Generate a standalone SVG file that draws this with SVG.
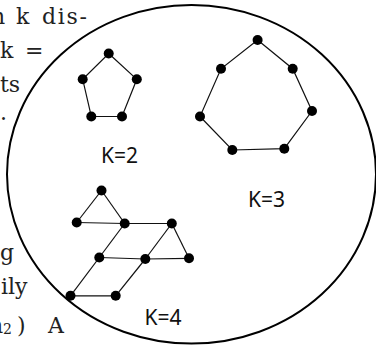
<svg xmlns="http://www.w3.org/2000/svg" width="376" height="345" viewBox="0 0 376 345">
<style>
.bg{fill:#fff}
.edge{stroke:#111;stroke-width:1.2;fill:none}
.dot{fill:#000}
.lbl{font-family:"Noto Sans","Open Sans","DejaVu Sans",sans-serif;font-size:21px;fill:#111}
.body{font-family:"DejaVu Serif","Liberation Serif",serif;font-size:22px;fill:#222}
.sub{font-family:"DejaVu Serif","Liberation Serif",serif;font-size:14px;fill:#222}
.outline{fill:none;stroke:#000;stroke-width:2}
</style>
<rect class="bg" x="0" y="0" width="376" height="345"/>
<g id="page-text">
<text class="body" x="-9" y="24">n</text>
<text class="body" x="16" y="24">k</text>
<text class="body" x="42" y="24" textLength="45">dis-</text>
<text class="body" x="0" y="58">k</text>
<text class="body" x="25" y="58">=</text>
<text class="body" x="0" y="92">ts</text>
<text class="body" x="0" y="120">.</text>
<text class="body" x="0" y="260">g</text>
<text class="body" x="1" y="294">ily</text>
<text class="body" x="-11" y="333">n</text>
<text class="sub" x="3" y="334">2</text>
<text class="body" x="17" y="333">)</text>
<text class="body" x="48" y="333">A</text>
</g>
<ellipse id="boundary" class="outline" cx="191.5" cy="174.3" rx="184.5" ry="169.3"/>
<g id="connectors">
<polygon class="edge" points="108.7,53.5 136.8,79.3 122,116.5 91.3,116.5 82.7,79.3"/>
<polygon class="edge" points="257.6,40 292.7,68.7 312,111 284.3,148.7 232.3,150 200,116.5 221,68.8"/>
<line class="edge" x1="101.5" y1="190.5" x2="76.7" y2="222.5"/>
<line class="edge" x1="101.5" y1="190.5" x2="124.7" y2="223.5"/>
<line class="edge" x1="76.7" y1="222.5" x2="124.7" y2="223.5"/>
<line class="edge" x1="124.7" y1="223.5" x2="171.8" y2="223.5"/>
<line class="edge" x1="124.7" y1="223.5" x2="99.3" y2="257.5"/>
<line class="edge" x1="171.8" y1="223.5" x2="145.3" y2="259"/>
<line class="edge" x1="171.8" y1="223.5" x2="189" y2="258.3"/>
<line class="edge" x1="99.3" y1="257.5" x2="145.3" y2="259"/>
<line class="edge" x1="145.3" y1="259" x2="189" y2="258.3"/>
<line class="edge" x1="99.3" y1="257.5" x2="70.5" y2="295.8"/>
<line class="edge" x1="145.3" y1="259" x2="115.7" y2="295.8"/>
<line class="edge" x1="70.5" y1="295.8" x2="115.7" y2="295.8"/>
</g>
<g id="k2">
<g id="k2-n1"><circle class="dot" cx="108.7" cy="53.5" r="5"/></g>
<g id="k2-n2"><circle class="dot" cx="136.8" cy="79.3" r="5"/></g>
<g id="k2-n3"><circle class="dot" cx="122" cy="116.5" r="5"/></g>
<g id="k2-n4"><circle class="dot" cx="91.3" cy="116.5" r="5"/></g>
<g id="k2-n5"><circle class="dot" cx="82.7" cy="79.3" r="5"/></g>
<text class="lbl" x="101" y="163">K=2</text>
</g>
<g id="k3">
<g id="k3-n1"><circle class="dot" cx="257.6" cy="40" r="5"/></g>
<g id="k3-n2"><circle class="dot" cx="292.7" cy="68.7" r="5"/></g>
<g id="k3-n3"><circle class="dot" cx="312" cy="111" r="5"/></g>
<g id="k3-n4"><circle class="dot" cx="284.3" cy="148.7" r="5"/></g>
<g id="k3-n5"><circle class="dot" cx="232.3" cy="150" r="5"/></g>
<g id="k3-n6"><circle class="dot" cx="200" cy="116.5" r="5"/></g>
<g id="k3-n7"><circle class="dot" cx="221" cy="68.8" r="5"/></g>
<text class="lbl" x="248" y="207">K=3</text>
</g>
<g id="k4">
<g id="k4-a"><circle class="dot" cx="101.5" cy="190.5" r="5"/></g>
<g id="k4-b"><circle class="dot" cx="76.7" cy="222.5" r="5"/></g>
<g id="k4-c"><circle class="dot" cx="124.7" cy="223.5" r="5"/></g>
<g id="k4-d"><circle class="dot" cx="171.8" cy="223.5" r="5"/></g>
<g id="k4-e"><circle class="dot" cx="99.3" cy="257.5" r="5"/></g>
<g id="k4-f"><circle class="dot" cx="145.3" cy="259" r="5"/></g>
<g id="k4-g"><circle class="dot" cx="189" cy="258.3" r="5"/></g>
<g id="k4-h"><circle class="dot" cx="70.5" cy="295.8" r="5"/></g>
<g id="k4-i"><circle class="dot" cx="115.7" cy="295.8" r="5"/></g>
<text class="lbl" x="144.5" y="324.5">K=4</text>
</g>
</svg>
